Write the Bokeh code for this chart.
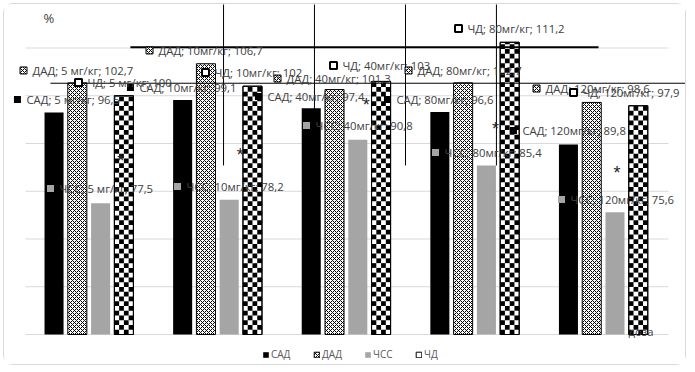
import math
from bokeh.plotting import figure
from bokeh.models import Range1d, Label
from bokeh.core.properties import value
from bokeh.embed import file_html
from bokeh.resources import INLINE

# ---------------- data ----------------
cats = ["5 мг/кг", "10мг/кг", "40мг/кг", "80мг/кг", "120мг/кг"]
series = ["САД", "ДАД", "ЧСС", "ЧД"]
sad = [96.5, 99.1, 97.4, 96.6, 89.8]
dad = [102.7, 106.7, 101.3, 102.7, 98.6]
chss = [77.5, 78.2, 90.8, 85.4, 75.6]
chd = [100, 102, 103, 111.2, 97.9]

# asterisk markers (category position, value)
star_x = [0.74, 1.67, 2.65, 3.655, 4.60]
star_y = [86.4, 87.5, 98.0, 93.1, 83.9]

# reference lines (vertical: x, from, to ; horizontal: y, from, to)
vline_x = [1.54, 2.247, 2.955, 3.662]
vline_y0 = [85.4, 85.4, 85.4, 85.4]
vline_y1 = [125, 125, 125, 125]
hline_y = [110.17, 102.62]
hline_x0 = [0.816, 0.194]
hline_x1 = [4.456, 5.3]
hline_w = [2, 1]

grid_vals = [50, 60, 70, 80, 90, 100, 110]

# label offsets from bar top (pixels, screen: +x right, +y down)
lab_dx = {
    "САД": [-36.6, -52.2, -52.8, -52.4, -55.0],
    "ДАД": [-53.8, -56.4, -57.0, -54.6, -55.2],
    "ЧСС": [-50.1, -51.7, -51.3, -50.9, -53.5],
    "ЧД": [-45.4, -47.0, -47.6, -51.2, -64.8],
}
lab_dy = {
    "САД": [-13.0, -12.6, -11.7, -12.5, -14.0],
    "ДАД": [-12.4, -13.3, -11.0, -12.4, -13.9],
    "ЧСС": [-14.7, -13.3, -14.2, -13.0, -12.8],
    "ЧД": [-13.25, -13.7, -15.9, -13.8, -13.3],
}

# ---------------- layout ----------------
W, H = 683, 362          # content size (plus 1px border, 3px margin)
OX, OY = 4, 4            # content origin on the page
PX_X = 128.6             # px per category
PX_Y = 4.775             # px per % unit
x0 = -(25 - OX) / PX_X
x1 = x0 + W / PX_X
y_top = 50 + (334 - OY) / PX_Y
y_bot = 50 - (OY + H - 334) / PX_Y

p = figure(width=W, height=H, output_backend="svg", toolbar_location=None,
           x_range=Range1d(x0, x1), y_range=Range1d(y_bot, y_top),
           min_border=0, min_border_left=0, min_border_right=0,
           min_border_top=0, min_border_bottom=0, title=None)
p.axis.visible = False
p.grid.visible = False
p.outline_line_color = None
p.background_fill_color = "white"
p.border_fill_color = "white"
p.styles = {"border": "1px solid #d9d9d9", "border-radius": "10px",
            "margin-left": "3px", "margin-top": "3px"}

# gridlines
p.segment(x0=[0] * len(grid_vals), x1=[5] * len(grid_vals), y0=grid_vals, y1=grid_vals,
          line_color="#d9d9d9", line_width=1)

offsets = [-0.278, -0.097, 0.084, 0.265]
bw = 0.148
vals = {"САД": sad, "ДАД": dad, "ЧСС": chss, "ЧД": chd}
dad_hatch = dict(hatch_pattern="diagonal_cross", hatch_scale=4, hatch_weight=1,
                 hatch_color="black")
styles = {
    "САД": dict(fill_color="black", line_color=None),
    "ДАД": dict(fill_color="white", line_color="black", line_width=1, **dad_hatch),
    "ЧСС": dict(fill_color="#a5a5a5", line_color=None),
    "ЧД": dict(fill_color="white", line_color="black", line_width=1),
}

bar_x = {}
for s, off in zip(series, offsets):
    xs = [i + 0.5 + off for i in range(len(cats))]
    bar_x[s] = xs
    p.vbar(x=xs, top=vals[s], bottom=50, width=bw, legend_label=s, **styles[s])

# checkerboard fill of the ЧД bars, built from the bar values
ncol = 4
cw = bw / ncol
chh = (bw * PX_X / ncol) / PX_Y
ql, qr, qb, qt = [], [], [], []
for i, top in enumerate(chd):
    xl = bar_x["ЧД"][i] - bw / 2
    nrows = math.ceil((top - 50) / chh)
    for r in range(nrows):
        yb = 50 + r * chh
        yt = min(yb + chh, top)
        for c in range(ncol):
            if (r + c) % 2 == 0:
                ql.append(xl + c * cw)
                qr.append(xl + (c + 1) * cw)
                qb.append(yb)
                qt.append(yt)
p.quad(left=ql, right=qr, bottom=qb, top=qt, fill_color="black", line_color=None)
p.vbar(x=bar_x["ЧД"], top=chd, bottom=50, width=bw, fill_color=None,
       line_color="black", line_width=1)

# reference lines
p.segment(x0=vline_x, x1=vline_x, y0=vline_y0, y1=vline_y1, line_color="black", line_width=1)
p.segment(x0=hline_x0, x1=hline_x1, y0=hline_y, y1=hline_y, line_color="black", line_width=hline_w)

# asterisks
p.text(x=star_x, y=star_y, text=["*"] * len(star_x), text_align="center",
       text_baseline="middle", text_font=value("Liberation Sans"),
       text_font_size="18px", text_color="#262626")

# data labels
def fmt(v):
    return f"{v:g}".replace(".", ",")

mk_styles = {
    "САД": dict(fill_color="black", line_color=None),
    "ДАД": dict(fill_color="white", line_color="black", line_width=1, **dad_hatch),
    "ЧСС": dict(fill_color="#a5a5a5", line_color=None),
    "ЧД": dict(fill_color="white", line_color="black", line_width=2),
}
for s in series:
    lx = [bx + dx / PX_X for bx, dx in zip(bar_x[s], lab_dx[s])]
    ly = [v - dy / PX_Y for v, dy in zip(vals[s], lab_dy[s])]
    texts = [f"{s}; {c}; {fmt(v)}" for c, v in zip(cats, vals[s])]
    p.scatter(x=lx, y=ly, marker="square", size=7, **mk_styles[s])
    p.text(x=lx, y=ly, text=texts, x_offset=9, text_baseline="middle",
           text_font=value("Open Sans"), text_font_size="11.3px", text_color="#404040")

p.add_layout(Label(x=39, y=349, x_units="screen", y_units="screen", text="%",
                   text_baseline="middle", text_font="Open Sans", text_font_size="13px",
                   text_color="#404040"))
p.add_layout(Label(x=624, y=35, x_units="screen", y_units="screen", text="доза",
                   text_baseline="middle", text_font="Open Sans", text_font_size="11.3px",
                   text_color="#404040"))

lg = p.legend[0]
lg.orientation = "horizontal"
lg.location = (258, 5)
lg.border_line_color = None
lg.background_fill_alpha = 0
lg.padding = 0
lg.margin = 0
lg.spacing = 22
lg.glyph_width = 7
lg.glyph_height = 7
lg.label_standoff = 2
lg.label_height = 12
lg.label_text_font = "Open Sans"
lg.label_text_font_size = "10px"
lg.label_text_color = "#595959"

open("out.html", "w").write(file_html(p, INLINE))
